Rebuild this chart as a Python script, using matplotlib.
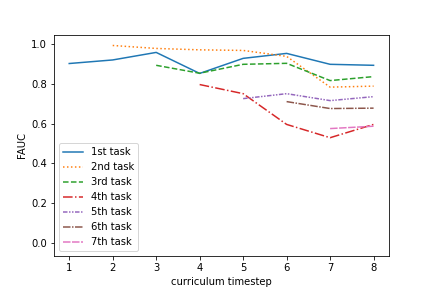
import matplotlib
matplotlib.use("Agg")
import matplotlib.pyplot as plt

steps = [1, 2, 3, 4, 5, 6, 7, 8]
task1 = [0.904, 0.922, 0.96, 0.854, 0.93, 0.955, 0.90, 0.895]
task2 = [0.995, 0.98, 0.973, 0.97, 0.94, 0.785, 0.79]
task3 = [0.895, 0.855, 0.90, 0.905, 0.818, 0.838]
task4 = [0.798, 0.752, 0.597, 0.53, 0.597]
task5 = [0.727, 0.752, 0.717, 0.737]
task6 = [0.712, 0.677, 0.679]
task7 = [0.576, 0.588]

labels = ["1st task", "2nd task", "3rd task", "4th task", "5th task", "6th task", "7th task"]
series = [task1, task2, task3, task4, task5, task6, task7]
styles = ["-", ":", "--", "-.", (0, (3, 1, 1, 1, 1, 1)), (0, (5, 1, 1, 1)), (0, (5, 1))]

fig = plt.figure(figsize=(6, 4), dpi=72)
for i, (vals, lab, ls) in enumerate(zip(series, labels, styles)):
    plt.plot(steps[i:], vals, linestyle=ls, label=lab)

plt.ylim(-0.068, 1.05)
plt.xlabel("curriculum timestep")
plt.ylabel("FAUC")
plt.legend(loc="lower left")
plt.savefig("out.png")
